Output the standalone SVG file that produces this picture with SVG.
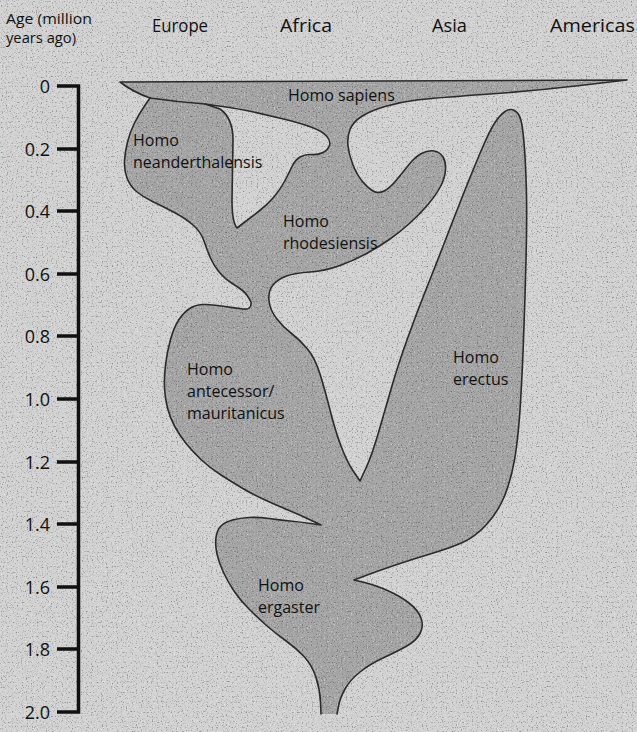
<svg xmlns="http://www.w3.org/2000/svg" width="637" height="732" viewBox="0 0 637 732">
<defs>
<filter id="grainDark" filterUnits="userSpaceOnUse" x="0" y="0" width="637" height="732">
<feTurbulence type="fractalNoise" baseFrequency="0.8" numOctaves="1" seed="11"/>
<feColorMatrix type="matrix" values="0 0 0 0 0  0 0 0 0 0  0 0 0 0 0  0 0 0 -4 1.75"/>
</filter>
<filter id="grainLight" filterUnits="userSpaceOnUse" x="0" y="0" width="637" height="732">
<feTurbulence type="fractalNoise" baseFrequency="0.7" numOctaves="1" seed="29"/>
<feColorMatrix type="matrix" values="0 0 0 0 1  0 0 0 0 1  0 0 0 0 1  4 0 0 0 -2.3"/>
</filter>
</defs>
<style>
.hdr{font-family:"Open Sans","Noto Sans","Liberation Sans",sans-serif;font-size:18px;fill:#111}
.sub{font-family:"Open Sans","Noto Sans","Liberation Sans",sans-serif;font-size:14px;fill:#111}
.sp{font-family:"Open Sans","Noto Sans","Liberation Sans",sans-serif;font-size:16px;fill:#111}
.ax{font-family:"Open Sans","Noto Sans","Liberation Sans",sans-serif;font-size:18px;fill:#111;text-anchor:end}
.line{fill:none;stroke:#2b2b2b;stroke-width:1.6;stroke-linejoin:round;stroke-linecap:round}
.axis{fill:none;stroke:#111;stroke-width:3.5;stroke-linejoin:miter}
</style>
<rect x="0" y="0" width="637" height="732" fill="#d2d2d2"/>

<g id="regions">
<path id="shaded" fill="#a5a5a5" fill-rule="evenodd" d="M321,714 L320.5,702 Q320,690 316,677.5 Q312,665 304,656.5 Q296,648 285.5,640.5 Q275,633 266.5,625.5 Q258,618 249,609 Q240,600 234,591 Q228,582 223.5,572.5 Q219,563 217,554 Q215,545 216,537.5 Q217,530 221,526 Q225,522 232.5,520 Q240,518 249,517.5 Q258,517 269,518.5 Q280,520 290,521 Q300,522 310.5,523.5 L321,525 L310.5,520 Q300,515 288,510 Q276,505 264,499.5 Q252,494 242,488 Q232,482 221,475 Q210,468 201.5,460 Q193,452 186.5,444 Q180,436 175,427 Q170,418 167.5,408 Q165,398 164.5,388 Q164,378 165.5,365 Q167,352 170.5,339.5 Q174,327 179,319.5 Q184,312 190.5,308 Q197,304 206,304.5 Q215,305 225,306.5 Q235,308 243,309 Q252,310 251,302 Q247,294 242.5,290.5 Q238,287 231.5,283 Q225,279 219.5,272.5 Q214,266 210.5,258 Q207,250 204,241 Q201,232 193,225 Q185,218 173.5,212 Q162,206 152.5,201.5 Q143,197 136.5,191.5 Q130,186 127,178 Q124,170 124.5,161 Q125,152 127.5,142 Q130,132 134.5,123 Q139,114 144.5,106 L150,98 Q133,92 120,82 L627,80 L580,85.5 Q533,91 483,94.5 Q433,98 416.5,100 Q400,102 385,106.5 Q370,111 361.5,116.5 Q353,122 350,129.5 Q347,137 348,146 Q349,155 353,165 Q357,175 362.5,181.5 Q368,188 373,191 Q378,194 384,191 Q390,188 396.5,180 Q403,172 409,164.5 Q415,157 421.5,153.5 Q428,150 434,151 Q440,152 443,157 Q446,162 445.5,170 Q445,178 440.5,186.5 Q436,195 428,204.5 Q420,214 410,223 Q400,232 390,239 Q380,246 367.5,253 Q355,260 340,265.5 Q325,271 310,272 Q295,273 286.5,276 Q278,279 273,285 Q268,291 269,300.5 Q270,310 276.5,318.5 Q283,327 291.5,333.5 Q300,340 307.5,349 Q315,358 320,374 Q325,390 330,410 Q335,430 341,446 Q347,462 353.5,471.5 L360,481 L366,468 Q372,455 378.5,432.5 Q385,410 391.5,387.5 Q398,365 407.5,338.5 Q417,312 427,287 Q437,262 447,236 Q457,210 466,187.5 Q475,165 482.5,147.5 Q490,130 495,122.5 Q500,115 505,111.5 Q510,108 514.5,110.5 Q519,113 521,120.5 Q523,128 524.5,149 Q526,170 526.5,195 Q527,220 526,260 Q525,300 523.5,340 Q522,380 520,410 Q518,440 514.5,460 Q511,480 504.5,496 Q498,512 486.5,524.5 Q475,537 462.5,542.5 Q450,548 430,554 Q410,560 392.5,566 Q375,572 364.5,576 L354,580 L364.5,582.5 Q375,585 387.5,590.5 Q400,596 409,603 Q418,610 421,618 Q424,626 420,633.5 Q416,641 406,646.5 Q396,652 383,658 Q370,664 360,672 Q350,680 345,689 Q340,698 338.5,706 L337,714 Z M205,104 L222.5,106.5 Q240,109 253.5,112 Q267,115 283.5,119 Q300,123 311,127 Q322,131 326.5,136 Q331,141 329.5,145.5 Q328,150 323,152.5 Q318,155 311.5,154.5 Q305,154 300,157 Q295,160 292,166.5 Q289,173 284.5,181.5 Q280,190 273.5,197.5 Q267,205 258.5,211.5 Q250,218 243.5,223 L237,228 Q232,222 232,200 L233,140 Q233,118 220,109 Z"/>
</g>

<g id="grain">
<rect x="0" y="0" width="637" height="732" filter="url(#grainDark)" opacity="0.38"/>
<rect x="0" y="0" width="637" height="732" filter="url(#grainLight)" opacity="0.5"/>
</g>

<g id="connectors">
<path id="outline" class="line" d="M321,714 L320.5,702 Q320,690 316,677.5 Q312,665 304,656.5 Q296,648 285.5,640.5 Q275,633 266.5,625.5 Q258,618 249,609 Q240,600 234,591 Q228,582 223.5,572.5 Q219,563 217,554 Q215,545 216,537.5 Q217,530 221,526 Q225,522 232.5,520 Q240,518 249,517.5 Q258,517 269,518.5 Q280,520 290,521 Q300,522 310.5,523.5 L321,525 L310.5,520 Q300,515 288,510 Q276,505 264,499.5 Q252,494 242,488 Q232,482 221,475 Q210,468 201.5,460 Q193,452 186.5,444 Q180,436 175,427 Q170,418 167.5,408 Q165,398 164.5,388 Q164,378 165.5,365 Q167,352 170.5,339.5 Q174,327 179,319.5 Q184,312 190.5,308 Q197,304 206,304.5 Q215,305 225,306.5 Q235,308 243,309 Q252,310 251,302 Q247,294 242.5,290.5 Q238,287 231.5,283 Q225,279 219.5,272.5 Q214,266 210.5,258 Q207,250 204,241 Q201,232 193,225 Q185,218 173.5,212 Q162,206 152.5,201.5 Q143,197 136.5,191.5 Q130,186 127,178 Q124,170 124.5,161 Q125,152 127.5,142 Q130,132 134.5,123 Q139,114 144.5,106 L150,98 Q133,92 120,82 L627,80 L580,85.5 Q533,91 483,94.5 Q433,98 416.5,100 Q400,102 385,106.5 Q370,111 361.5,116.5 Q353,122 350,129.5 Q347,137 348,146 Q349,155 353,165 Q357,175 362.5,181.5 Q368,188 373,191 Q378,194 384,191 Q390,188 396.5,180 Q403,172 409,164.5 Q415,157 421.5,153.5 Q428,150 434,151 Q440,152 443,157 Q446,162 445.5,170 Q445,178 440.5,186.5 Q436,195 428,204.5 Q420,214 410,223 Q400,232 390,239 Q380,246 367.5,253 Q355,260 340,265.5 Q325,271 310,272 Q295,273 286.5,276 Q278,279 273,285 Q268,291 269,300.5 Q270,310 276.5,318.5 Q283,327 291.5,333.5 Q300,340 307.5,349 Q315,358 320,374 Q325,390 330,410 Q335,430 341,446 Q347,462 353.5,471.5 L360,481 L366,468 Q372,455 378.5,432.5 Q385,410 391.5,387.5 Q398,365 407.5,338.5 Q417,312 427,287 Q437,262 447,236 Q457,210 466,187.5 Q475,165 482.5,147.5 Q490,130 495,122.5 Q500,115 505,111.5 Q510,108 514.5,110.5 Q519,113 521,120.5 Q523,128 524.5,149 Q526,170 526.5,195 Q527,220 526,260 Q525,300 523.5,340 Q522,380 520,410 Q518,440 514.5,460 Q511,480 504.5,496 Q498,512 486.5,524.5 Q475,537 462.5,542.5 Q450,548 430,554 Q410,560 392.5,566 Q375,572 364.5,576 L354,580 L364.5,582.5 Q375,585 387.5,590.5 Q400,596 409,603 Q418,610 421,618 Q424,626 420,633.5 Q416,641 406,646.5 Q396,652 383,658 Q370,664 360,672 Q350,680 345,689 Q340,698 338.5,706 L337,714"/>
<path id="hole" class="line" d="M205,104 L222.5,106.5 Q240,109 253.5,112 Q267,115 283.5,119 Q300,123 311,127 Q322,131 326.5,136 Q331,141 329.5,145.5 Q328,150 323,152.5 Q318,155 311.5,154.5 Q305,154 300,157 Q295,160 292,166.5 Q289,173 284.5,181.5 Q280,190 273.5,197.5 Q267,205 258.5,211.5 Q250,218 243.5,223 L237,228 Q232,222 232,200 L233,140 Q233,118 220,109 Z"/>
<path id="sapiens-neanderthal" class="line" d="M150,98 Q178,102 205,104"/>
</g>

<g id="axis">
<path class="axis" d="M57,86 H78.5 V712 H57"/>
<path class="axis" d="M57,149 H78 M57,211 H78 M57,274 H78 M57,336 H78 M57,399 H78 M57,462 H78 M57,524 H78 M57,587 H78 M57,649 H78"/>
<text class="ax" x="50" y="92.5">0</text>
<text class="ax" x="50" y="155.5">0.2</text>
<text class="ax" x="50" y="217.5">0.4</text>
<text class="ax" x="50" y="280.5">0.6</text>
<text class="ax" x="50" y="342.5">0.8</text>
<text class="ax" x="50" y="405.5">1.0</text>
<text class="ax" x="50" y="468.5">1.2</text>
<text class="ax" x="50" y="530.5">1.4</text>
<text class="ax" x="50" y="593.5">1.6</text>
<text class="ax" x="50" y="655.5">1.8</text>
<text class="ax" x="50" y="718.5">2.0</text>
</g>

<g id="headers">
<text class="sub" x="6" y="23.5" textLength="86" lengthAdjust="spacingAndGlyphs">Age (million</text>
<text class="sub" x="6" y="43" textLength="70" lengthAdjust="spacingAndGlyphs">years ago)</text>
<text class="hdr" x="152" y="32" textLength="56" lengthAdjust="spacingAndGlyphs">Europe</text>
<text class="hdr" x="280" y="32" textLength="52" lengthAdjust="spacingAndGlyphs">Africa</text>
<text class="hdr" x="432" y="32" textLength="35" lengthAdjust="spacingAndGlyphs">Asia</text>
<text class="hdr" x="550" y="32" textLength="85" lengthAdjust="spacingAndGlyphs">Americas</text>
</g>

<g id="homo-sapiens"><text class="sp" x="288" y="101">Homo sapiens</text></g>
<g id="homo-neanderthalensis"><text class="sp" x="133" y="146">Homo</text><text class="sp" x="133" y="168">neanderthalensis</text></g>
<g id="homo-rhodesiensis"><text class="sp" x="283" y="227">Homo</text><text class="sp" x="283" y="249">rhodesiensis</text></g>
<g id="homo-antecessor"><text class="sp" x="187" y="375">Homo</text><text class="sp" x="187" y="397">antecessor/</text><text class="sp" x="187" y="419">mauritanicus</text></g>
<g id="homo-erectus"><text class="sp" x="453" y="363">Homo</text><text class="sp" x="453" y="385">erectus</text></g>
<g id="homo-ergaster"><text class="sp" x="258" y="591">Homo</text><text class="sp" x="258" y="613">ergaster</text></g>
</svg>
